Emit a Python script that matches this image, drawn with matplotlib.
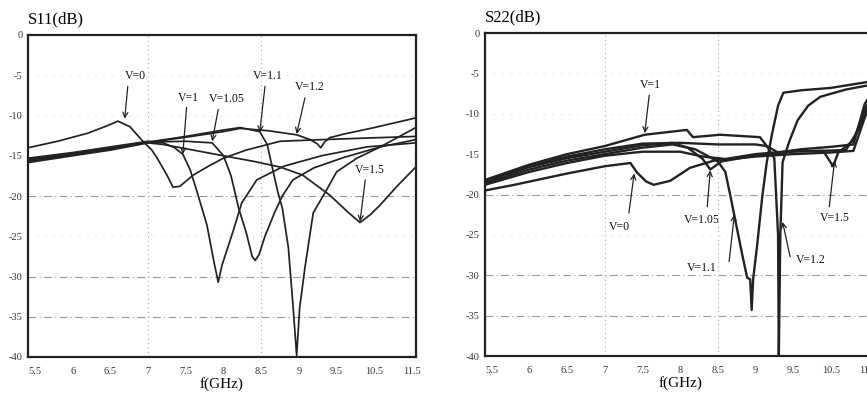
import matplotlib
matplotlib.use("Agg")
import matplotlib.pyplot as plt

# S11 curves (frequency in GHz, level in dB)
s11_v0_f = [5.41, 5.8, 6.2, 6.45, 6.6, 6.76, 6.93, 7.05, 7.12, 7.25, 7.33, 7.42, 7.6, 7.8, 8.0, 8.3, 8.75, 9.3, 9.9, 10.55]
s11_v0_db = [-14.0, -13.2, -12.2, -11.3, -10.7, -11.4, -13.2, -14.3, -15.3, -17.4, -18.9, -18.8, -17.4, -16.3, -15.3, -14.3, -13.2, -13.0, -12.8, -12.6]

s11_v1_f = [5.41, 6.0, 6.5, 7.0, 7.2, 7.35, 7.46, 7.56, 7.65, 7.78, 7.88, 7.93, 7.98, 8.13, 8.24, 8.44, 8.8, 9.3, 9.9, 10.55]
s11_v1_db = [-15.3, -14.6, -13.9, -13.2, -13.4, -14.0, -14.8, -16.8, -19.5, -23.6, -28.5, -30.7, -28.6, -24.3, -20.9, -18.0, -16.3, -15.0, -13.9, -13.4]

s11_v105_f = [5.41, 6.0, 6.5, 7.0, 7.5, 7.85, 8.0, 8.1, 8.2, 8.3, 8.38, 8.42, 8.47, 8.55, 8.68, 8.78, 8.92, 9.2, 9.6, 10.08, 10.55]
s11_v105_db = [-15.45, -14.7, -14.0, -13.3, -13.2, -13.4, -15.0, -17.5, -21.5, -24.5, -27.5, -28.0, -27.3, -25.0, -22.0, -20.0, -18.0, -16.5, -15.2, -13.9, -13.0]

s11_v11_f = [5.41, 6.0, 6.5, 7.0, 7.5, 8.0, 8.22, 8.48, 8.58, 8.66, 8.72, 8.78, 8.86, 8.92, 8.97, 9.01, 9.08, 9.19, 9.37, 9.5, 9.77, 10.08, 10.55]
s11_v11_db = [-15.55, -14.8, -14.1, -13.3, -12.6, -11.8, -11.5, -12.0, -13.6, -17.0, -19.5, -21.5, -26.4, -33.4, -39.8, -33.9, -28.9, -22.1, -19.2, -17.0, -15.3, -13.9, -11.5]

s11_v12_f = [5.41, 6.0, 6.5, 7.0, 7.5, 8.0, 8.22, 8.6, 8.97, 9.15, 9.24, 9.29, 9.34, 9.41, 9.6, 10.0, 10.55]
s11_v12_db = [-15.7, -14.9, -14.2, -13.35, -12.7, -12.0, -11.6, -11.9, -12.4, -13.0, -13.5, -14.0, -13.3, -12.75, -12.3, -11.5, -10.3]

s11_v15_f = [5.41, 6.0, 6.5, 7.0, 7.2, 7.6, 8.0, 8.4, 8.75, 9.05, 9.41, 9.65, 9.81, 9.95, 10.08, 10.3, 10.55]
s11_v15_db = [-15.85, -15.0, -14.3, -13.4, -13.6, -14.3, -15.0, -15.7, -16.4, -17.4, -19.9, -22.0, -23.3, -22.3, -21.1, -18.8, -16.4]

# S22 curves
s22_v0_f = [5.41, 5.8, 6.1, 6.5, 7.0, 7.34, 7.43, 7.55, 7.65, 7.87, 8.13, 8.45, 9.0, 9.5, 10.0, 10.3, 10.45, 10.6]
s22_v0_db = [-19.5, -18.8, -18.2, -17.4, -16.5, -16.1, -17.3, -18.4, -18.8, -18.3, -16.7, -15.8, -15.3, -15.0, -14.8, -14.6, -10.5, -7.0]

s22_v1_f = [5.41, 6.0, 6.5, 7.0, 7.53, 8.09, 8.17, 8.53, 9.06, 9.15, 9.3, 9.6, 10.0, 10.3, 10.45, 10.6]
s22_v1_db = [-18.2, -16.3, -15.0, -14.0, -12.6, -12.0, -12.9, -12.6, -12.9, -14.0, -14.8, -14.4, -14.1, -13.8, -8.8, -6.6]

s22_v105_f = [5.41, 6.0, 6.5, 7.0, 7.5, 7.9, 8.1, 8.3, 8.4, 8.55, 9.0, 9.5, 10.2, 10.4, 10.6]
s22_v105_db = [-18.4, -16.6, -15.5, -14.7, -13.9, -13.6, -14.2, -15.6, -16.9, -15.9, -15.2, -14.7, -14.5, -11.5, -6.2]

s22_v11_f = [5.41, 6.0, 6.5, 7.0, 7.5, 7.9, 8.2, 8.5, 8.6, 8.67, 8.75, 8.83, 8.89, 8.93, 8.95, 8.97, 9.02, 9.09, 9.15, 9.22, 9.3, 9.37, 9.6, 10.0, 10.6]
s22_v11_db = [-18.6, -16.9, -15.8, -15.0, -14.2, -13.8, -14.4, -15.9, -17.2, -20.3, -24.0, -27.7, -30.3, -30.5, -34.3, -30.4, -26.5, -20.3, -16.0, -12.5, -9.0, -7.4, -7.1, -6.8, -5.9]

s22_v12_f = [5.41, 6.0, 6.5, 7.0, 7.5, 8.0, 8.5, 9.0, 9.15, 9.25, 9.3, 9.31, 9.33, 9.36, 9.45, 9.56, 9.7, 9.86, 10.2, 10.6]
s22_v12_db = [-18.3, -16.4, -15.3, -14.4, -13.7, -13.6, -13.8, -13.8, -14.0, -15.5, -25.0, -40.0, -25.0, -16.0, -13.4, -10.8, -9.0, -7.9, -7.0, -6.3]

s22_v15_f = [5.41, 6.0, 6.5, 7.0, 7.5, 8.0, 8.3, 8.6, 9.0, 9.5, 9.9, 10.03, 10.1, 10.3, 10.45, 10.6]
s22_v15_db = [-18.8, -17.2, -16.1, -15.2, -14.7, -14.7, -15.3, -15.6, -15.0, -14.6, -14.6, -16.5, -14.8, -13.3, -9.5, -6.8]

# axis ticks (labels as printed in the figure)
x_ticks = [5.5, 6, 6.5, 7, 7.5, 8, 8.5, 9, 9.5, 10, 10.5]
x_tick_labels = ["5.5", "6", "6.5", "7", "7.5", "8", "8.5", "9", "9.5", "10.5", "11.5"]
y_ticks = [0, -5, -10, -15, -20, -25, -30, -35, -40]
y_tick_labels = ["0", "-5", "-10", "-15", "-20", "-25", "-30", "-35", "-40"]

plt.rcParams["font.family"] = "serif"
plt.rcParams["font.serif"] = ["Liberation Serif", "DejaVu Serif"]

ink = "#222222"
fig = plt.figure(figsize=(8.67, 3.94), dpi=100)
W, H = 867.0, 394.0
ax1 = fig.add_axes([28 / W, 1 - 357 / H, (416 - 28) / W, (357 - 35) / H])
ax2 = fig.add_axes([485 / W, 1 - 356 / H, (876 - 485) / W, (356 - 33) / H])


def style_axes(ax, xlim, title):
    ax.set_xlim(*xlim)
    ax.set_ylim(-40, 0)
    ax.set_xticks(x_ticks)
    ax.set_xticklabels(x_tick_labels)
    ax.set_yticks(y_ticks)
    ax.set_yticklabels(y_tick_labels)
    ax.tick_params(length=0, labelsize=7.5, colors="#333333", pad=4)
    ax.tick_params(axis="x", pad=7)
    for s in ax.spines.values():
        s.set_linewidth(1.6)
        s.set_color(ink)
    # grid: dashed horizontals, dotted verticals
    for yv in [-20, -30, -35]:
        ax.axhline(yv, color="#9a9a9a", lw=0.8, ls=(0, (7, 3, 1, 3)), zorder=0)
    for yv in [-5, -10, -25]:
        ax.axhline(yv, color="#dddddd", lw=0.6, ls=(0, (2, 8)), zorder=0)
    for xv in [7, 8.5]:
        ax.axvline(xv, color="#aaaaaa", lw=0.8, ls=(0, (1, 3)), zorder=0)
    ax.set_xlabel("f(GHz)", fontsize=11, labelpad=1)
    ax.set_title(title, loc="left", fontsize=12, pad=8)


def arrow(ax, text, text_xy, start, tip):
    ax.text(text_xy[0], text_xy[1], text, fontsize=8.5, ha="center", va="center", color="#111111")
    ax.annotate("", xy=tip, xytext=start,
                arrowprops=dict(arrowstyle="->", lw=0.9, color=ink, shrinkA=0, shrinkB=0,
                                mutation_scale=9))


# ---- S11 ----
style_axes(ax1, (5.407, 10.553), "S11(dB)")
for f, db in [(s11_v0_f, s11_v0_db), (s11_v1_f, s11_v1_db), (s11_v105_f, s11_v105_db),
              (s11_v11_f, s11_v11_db), (s11_v12_f, s11_v12_db), (s11_v15_f, s11_v15_db)]:
    ax1.plot(f, db, color=ink, lw=1.25)

arrow(ax1, "V=0", (6.83, -5.1), (6.73, -6.4), (6.69, -10.4))
arrow(ax1, "V=1", (7.53, -7.8), (7.51, -9.0), (7.46, -14.8))
arrow(ax1, "V=1.05", (8.05, -8.0), (7.93, -9.25), (7.85, -13.2))
arrow(ax1, "V=1.1", (8.58, -5.1), (8.55, -6.4), (8.48, -12.1))
arrow(ax1, "V=1.2", (9.15, -6.5), (9.08, -7.8), (8.97, -12.3))
arrow(ax1, "V=1.5", (9.94, -16.75), (9.88, -18.0), (9.81, -23.2))

# ---- S22 ----
style_axes(ax2, (5.41, 10.6), "S22(dB)")
for f, db in [(s22_v0_f, s22_v0_db), (s22_v1_f, s22_v1_db), (s22_v105_f, s22_v105_db),
              (s22_v11_f, s22_v11_db), (s22_v12_f, s22_v12_db), (s22_v15_f, s22_v15_db)]:
    ax2.plot(f, db, color=ink, lw=1.7)

arrow(ax2, "V=1", (7.6, -6.4), (7.59, -7.7), (7.53, -12.4))
arrow(ax2, "V=0", (7.2, -24.0), (7.32, -22.3), (7.39, -17.4))
arrow(ax2, "V=1.05", (8.29, -23.1), (8.36, -21.5), (8.4, -17.0))
arrow(ax2, "V=1.1", (8.29, -29.1), (8.65, -28.3), (8.72, -22.5))
arrow(ax2, "V=1.2", (9.73, -28.1), (9.46, -27.7), (9.36, -23.4))
arrow(ax2, "V=1.5", (10.05, -22.9), (9.98, -21.5), (10.05, -15.8))

fig.savefig("out.png", dpi=100)
